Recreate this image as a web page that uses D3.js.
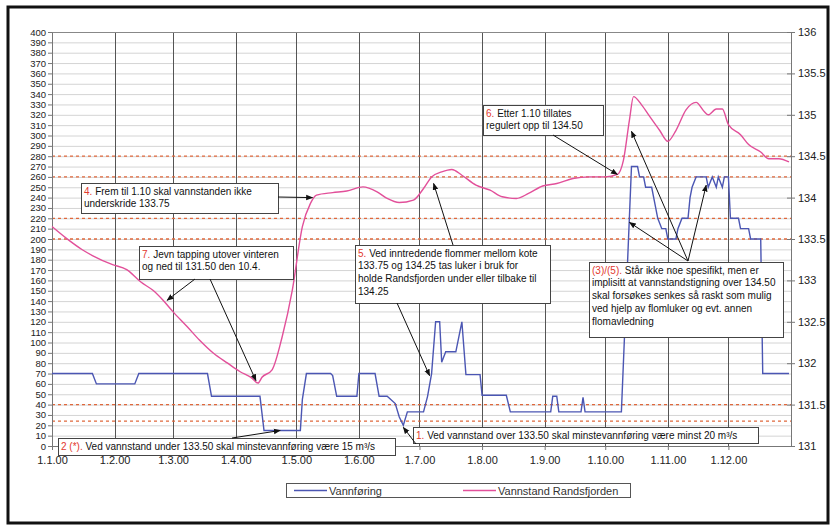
<!DOCTYPE html>
<html>
<head>
<meta charset="utf-8">
<style>
	body{ margin:0; background:#fff; }
	svg{ display:block; font-family:"Liberation Sans", Arial, sans-serif; }
	.grid line{ stroke:#d4d4d4; stroke-width:1; }
	.month line{ stroke:#555; stroke-width:1; }
	.axis path, .axis line{ stroke:#777; }
	.axis text{ fill:#222; }
	.ref{ stroke:#e0683c; stroke-width:1.3; stroke-dasharray:3,3; }
	.note rect{ fill:#fff; stroke:#444; stroke-width:1; }
	.note text{ font-size:10px; fill:#111; }
	.arrow{ stroke:#111; stroke-width:1; fill:none; }
</style>
</head>
<body>
<script src="https://cdn.jsdelivr.net/npm/d3@7"></script>
<script>

	// Vannføring (m3/s, left axis)
	var flowDates = ["2000-01-01","2000-01-21","2000-01-23","2000-02-11","2000-02-13","2000-03-18","2000-03-20","2000-04-13","2000-04-15","2000-05-03","2000-05-04","2000-05-06","2000-05-18","2000-05-19","2000-05-21","2000-05-31","2000-06-01","2000-06-09","2000-06-11","2000-06-15","2000-06-19","2000-06-21","2000-06-23","2000-06-25","2000-07-03","2000-07-05","2000-07-07","2000-07-09","2000-07-11","2000-07-12","2000-07-14","2000-07-19","2000-07-22","2000-07-24","2000-07-31","2000-08-01","2000-08-13","2000-08-15","2000-09-04","2000-09-05","2000-09-07","2000-09-08","2000-09-19","2000-09-20","2000-09-21","2000-10-09","2000-10-14","2000-10-17","2000-10-18","2000-10-20","2000-10-21","2000-10-24","2000-10-25","2000-10-27","2000-10-29","2000-10-31","2000-11-01","2000-11-05","2000-11-06","2000-11-08","2000-11-11","2000-11-12","2000-11-13","2000-11-15","2000-11-20","2000-11-21","2000-11-23","2000-11-25","2000-11-26","2000-11-28","2000-11-29","2000-12-01","2000-12-02","2000-12-06","2000-12-07","2000-12-11","2000-12-12","2000-12-17","2000-12-18","2000-12-31"];
	var flowValues = [70,70,60,60,70,70,48,48,15,15,45,70,70,68,48,48,70,70,48,48,41,28,20,33,33,48,70,120,120,81,91,91,120,69,69,49,49,33,33,48,48,33,33,47,33,33,270,270,260,260,250,250,240,220,210,210,200,200,210,220,220,240,250,260,260,250,260,250,260,250,260,260,220,220,210,210,200,200,70,70];

	// Vannstand Randsfjorden (moh, right axis)
	var levelDates = ["2000-01-01","2000-01-08","2000-01-16","2000-01-21","2000-01-31","2000-02-07","2000-02-14","2000-02-20","2000-02-25","2000-03-01","2000-03-08","2000-03-14","2000-03-21","2000-03-28","2000-04-03","2000-04-09","2000-04-12","2000-04-14","2000-04-19","2000-04-24","2000-04-29","2000-05-04","2000-05-08","2000-05-11","2000-05-19","2000-05-26","2000-06-03","2000-06-10","2000-06-15","2000-06-21","2000-06-28","2000-07-03","2000-07-07","2000-07-12","2000-07-17","2000-07-22","2000-07-29","2000-08-05","2000-08-11","2000-08-18","2000-08-24","2000-08-31","2000-09-07","2000-09-15","2000-09-23","2000-10-01","2000-10-07","2000-10-10","2000-10-13","2000-10-15","2000-10-19","2000-10-23","2000-10-28","2000-11-01","2000-11-05","2000-11-10","2000-11-15","2000-11-19","2000-11-21","2000-11-25","2000-11-28","2000-12-01","2000-12-07","2000-12-11","2000-12-17","2000-12-21","2000-12-26","2000-12-31"];
	var levelValues = [133.65,133.51,133.37,133.30,133.19,133.13,132.98,132.88,132.76,132.62,132.44,132.28,132.12,132.00,131.90,131.82,131.76,131.83,131.92,132.32,132.88,133.65,133.93,134.03,134.06,134.08,134.13,134.07,133.99,133.94,133.97,134.11,134.25,134.31,134.34,134.27,134.15,134.09,134.01,133.99,134.05,134.14,134.17,134.23,134.25,134.25,134.28,134.45,134.94,135.22,135.12,134.98,134.81,134.68,134.81,135.06,135.15,135.04,135.00,135.07,135.07,134.88,134.76,134.64,134.55,134.47,134.47,134.43];

	var flowTicks = d3.range(0, 401, 10);
	var levelTicks = d3.range(131, 136.01, 0.5);
	var refLevels = [134.5, 134.25, 133.75, 133.5, 131.5, 131.3];

	var seriesNames = ["Vannføring", "Vannstand Randsfjorden"];
	var seriesColors = ["#4b56b3", "#e2509a"];

	var parse = d3.timeParse("%Y-%m-%d");
	var flow = flowDates.map(function(d, i){ return {date: parse(d), v: flowValues[i]}; });
	var level = levelDates.map(function(d, i){ return {date: parse(d), v: levelValues[i]}; });

	var W = 836, H = 527;
	var margin = {top: 32, left: 52, right: 45, bottom: 81};
	var width = W - margin.left - margin.right,
		height = H - margin.top - margin.bottom;

	var x = d3.scaleTime()
		.domain([parse("2000-01-01"), parse("2001-01-01")])
		.range([margin.left, margin.left + width]);
	var y = d3.scaleLinear().domain([0, 400]).range([margin.top + height, margin.top]);
	var y2 = d3.scaleLinear().domain([131, 136]).range([margin.top + height, margin.top]);

	var svg = d3.select("body").append("svg")
		.attr("width", W)
		.attr("height", H);

	// outer frame
	svg.append("rect")
		.attr("x", 8).attr("y", 7)
		.attr("width", 820).attr("height", 516)
		.attr("fill", "#fff")
		.attr("stroke", "#111")
		.attr("stroke-width", 3);

	// horizontal grid
	svg.append("g").attr("class", "grid")
		.selectAll("line")
		.data(flowTicks.slice(1))
		.enter().append("line")
		.attr("x1", x.range()[0]).attr("x2", x.range()[1])
		.attr("y1", function(d){ return y(d) + 0.5; })
		.attr("y2", function(d){ return y(d) + 0.5; });

	var months = d3.timeMonth.range(parse("2000-01-01"), parse("2001-01-01"));
	svg.append("g").attr("class", "month")
		.selectAll("line")
		.data(months.slice(1))
		.enter().append("line")
		.attr("x1", function(d){ return Math.round(x(d)) + 0.5; })
		.attr("x2", function(d){ return Math.round(x(d)) + 0.5; })
		.attr("y1", margin.top).attr("y2", margin.top + height);

	// top border of plot
	svg.append("line")
		.attr("x1", x.range()[0]).attr("x2", x.range()[1])
		.attr("y1", margin.top + 0.5).attr("y2", margin.top + 0.5)
		.attr("stroke", "#888");

	// dashed reference levels
	svg.append("g")
		.selectAll("line")
		.data(refLevels)
		.enter().append("line")
		.attr("class", "ref")
		.attr("x1", x.range()[0]).attr("x2", x.range()[1])
		.attr("y1", function(d){ return y2(d); })
		.attr("y2", function(d){ return y2(d); });

	// axes
	var yAxis = svg.append("g").attr("class", "axis")
		.attr("transform", "translate(" + margin.left + ",0)")
		.call(d3.axisLeft(y).tickValues(flowTicks).tickSize(4).tickSizeOuter(0).tickPadding(2));
	yAxis.selectAll("text").attr("font-size", "9.5px");

	var y2Axis = svg.append("g").attr("class", "axis")
		.attr("transform", "translate(" + (margin.left + width) + ",0)")
		.call(d3.axisRight(y2).tickValues(levelTicks).tickSize(4).tickSizeOuter(0).tickPadding(3)
			.tickFormat(function(d){ return d3.format("")(+d.toFixed(1)); }));
	y2Axis.selectAll(".tick line").attr("x1", -4);
	y2Axis.selectAll("text").attr("font-size", "11px").attr("fill", "#333");

	var xAxis = svg.append("g").attr("class", "axis")
		.attr("transform", "translate(0," + (margin.top + height) + ")")
		.call(d3.axisBottom(x).tickValues(months).tickFormat(d3.timeFormat("%-d.%-m.%y"))
			.tickSize(4).tickSizeOuter(0).tickPadding(6));
	xAxis.selectAll("text").attr("font-size", "11px").attr("fill", "#444");

	// series
	var lineFlow = d3.line()
		.x(function(d){ return x(d.date); })
		.y(function(d){ return y(d.v); });
	var lineLevel = d3.line()
		.curve(d3.curveMonotoneX)
		.x(function(d){ return x(d.date); })
		.y(function(d){ return y2(d.v); });

	svg.append("path").datum(flow)
		.attr("fill", "none").attr("stroke", seriesColors[0]).attr("stroke-width", 1.4)
		.attr("d", lineFlow);
	svg.append("path").datum(level)
		.attr("fill", "none").attr("stroke", seriesColors[1]).attr("stroke-width", 1.4)
		.attr("d", lineLevel);

	// arrows
	svg.append("defs").append("marker")
		.attr("id", "head")
		.attr("viewBox", "0 0 10 10")
		.attr("refX", 9).attr("refY", 5)
		.attr("markerWidth", 7).attr("markerHeight", 7)
		.attr("orient", "auto")
		.append("path")
		.attr("d", "M0,1 L10,5 L0,9 Z")
		.attr("fill", "#111");

	function pt(date, v, axis){
		return [x(parse(date)), axis == "flow" ? y(v) : y2(v)];
	}

	var arrows = [
		{from: [278, 197], to: pt("2000-05-09", 134.0, "level")},
		{from: [195, 279], to: pt("2000-02-27", 132.76, "level")},
		{from: [210, 279], to: pt("2000-04-11", 131.79, "level")},
		{from: [453, 245], to: pt("2000-07-08", 134.17, "level")},
		{from: [397, 303], to: pt("2000-07-06", 68, "flow")},
		{from: [553, 135], to: pt("2000-10-07", 134.28, "level")},
		{from: [688, 261], to: pt("2000-10-14", 134.8, "level")},
		{from: [688, 261], to: pt("2000-10-13", 216, "flow")},
		{from: [688, 261], to: pt("2000-11-20", 252, "flow")},
		{from: [232, 438], to: pt("2000-04-23", 15, "flow")},
		{from: [416, 444], to: pt("2000-06-23", 18, "flow")}
	];

	// notes
	var notes = [
		{x: 81, y: 183, w: 197, h: 30, tag: "4", lines: ["Frem til 1.10 skal vannstanden ikke", "underskride 133.75"]},
		{x: 139, y: 246, w: 154, h: 33, tag: "7", lines: ["Jevn tapping utover vinteren", "og ned til 131.50 den 10.4."]},
		{x: 355, y: 245, w: 195, h: 58, tag: "5", lines: ["Ved inntredende flommer mellom kote", "133.75 og 134.25 tas luker i bruk for", "holde Randsfjorden under eller tilbake til", "134.25"]},
		{x: 483, y: 105, w: 120, h: 30, tag: "6", lines: ["Etter 1.10 tillates", "regulert opp til 134.50"]},
		{x: 589, y: 262, w: 194, h: 75, tag: "(3)/(5)", lines: ["Står ikke noe spesifikt, men er", "implisitt at vannstandstigning over 134.50", "skal forsøkes senkes så raskt som mulig", "ved hjelp av flomluker og evt. annen", "flomavledning"]},
		{x: 58, y: 438, w: 337, h: 17, tag: "2 (*)", lines: ["Ved vannstand under 133.50 skal minstevannføring være 15 m³/s"]},
		{x: 413, y: 427, w: 345, h: 16, tag: "1", lines: ["Ved vannstand over 133.50 skal minstevannføring være minst 20 m³/s"]}
	];

	var ng = svg.selectAll(".note")
		.data(notes)
		.enter().append("g")
		.attr("class", "note");

	ng.append("rect")
		.attr("x", function(d){ return d.x + 0.5; })
		.attr("y", function(d){ return d.y + 0.5; })
		.attr("width", function(d){ return d.w; })
		.attr("height", function(d){ return d.h; });

	ng.each(function(d){
		var g = d3.select(this);
		d.lines.forEach(function(t, i){
			var txt = g.append("text")
				.attr("x", d.x + 3)
				.attr("y", d.y + 11.5 + i * 12.8);
			if (i == 0) {
				txt.append("tspan").attr("fill", "#e2382e").text(d.tag + ". ");
			}
			txt.append("tspan").text(t);
		});
	});

	svg.append("g")
		.selectAll("line")
		.data(arrows)
		.enter().append("line")
		.attr("class", "arrow")
		.attr("x1", function(d){ return d.from[0]; })
		.attr("y1", function(d){ return d.from[1]; })
		.attr("x2", function(d){ return d.to[0]; })
		.attr("y2", function(d){ return d.to[1]; })
		.attr("marker-end", "url(#head)");

	// legend
	var lg = svg.append("g").attr("transform", "translate(286,483)");
	lg.append("rect")
		.attr("x", 0.5).attr("y", 0.5)
		.attr("width", 344).attr("height", 14)
		.attr("fill", "#fff").attr("stroke", "#555");
	var li = lg.selectAll(".li")
		.data(seriesNames)
		.enter().append("g")
		.attr("transform", function(d, i){ return "translate(" + (i == 0 ? 8 : 177) + ",0)"; });
	li.append("line")
		.attr("x1", 0).attr("x2", 33)
		.attr("y1", 7.5).attr("y2", 7.5)
		.attr("stroke", function(d, i){ return seriesColors[i]; })
		.attr("stroke-width", 1.5);
	li.append("text")
		.attr("x", 35).attr("y", 11.5)
		.attr("font-size", "11px")
		.attr("fill", "#333")
		.text(function(d){ return d; });

</script>
</body>
</html>
